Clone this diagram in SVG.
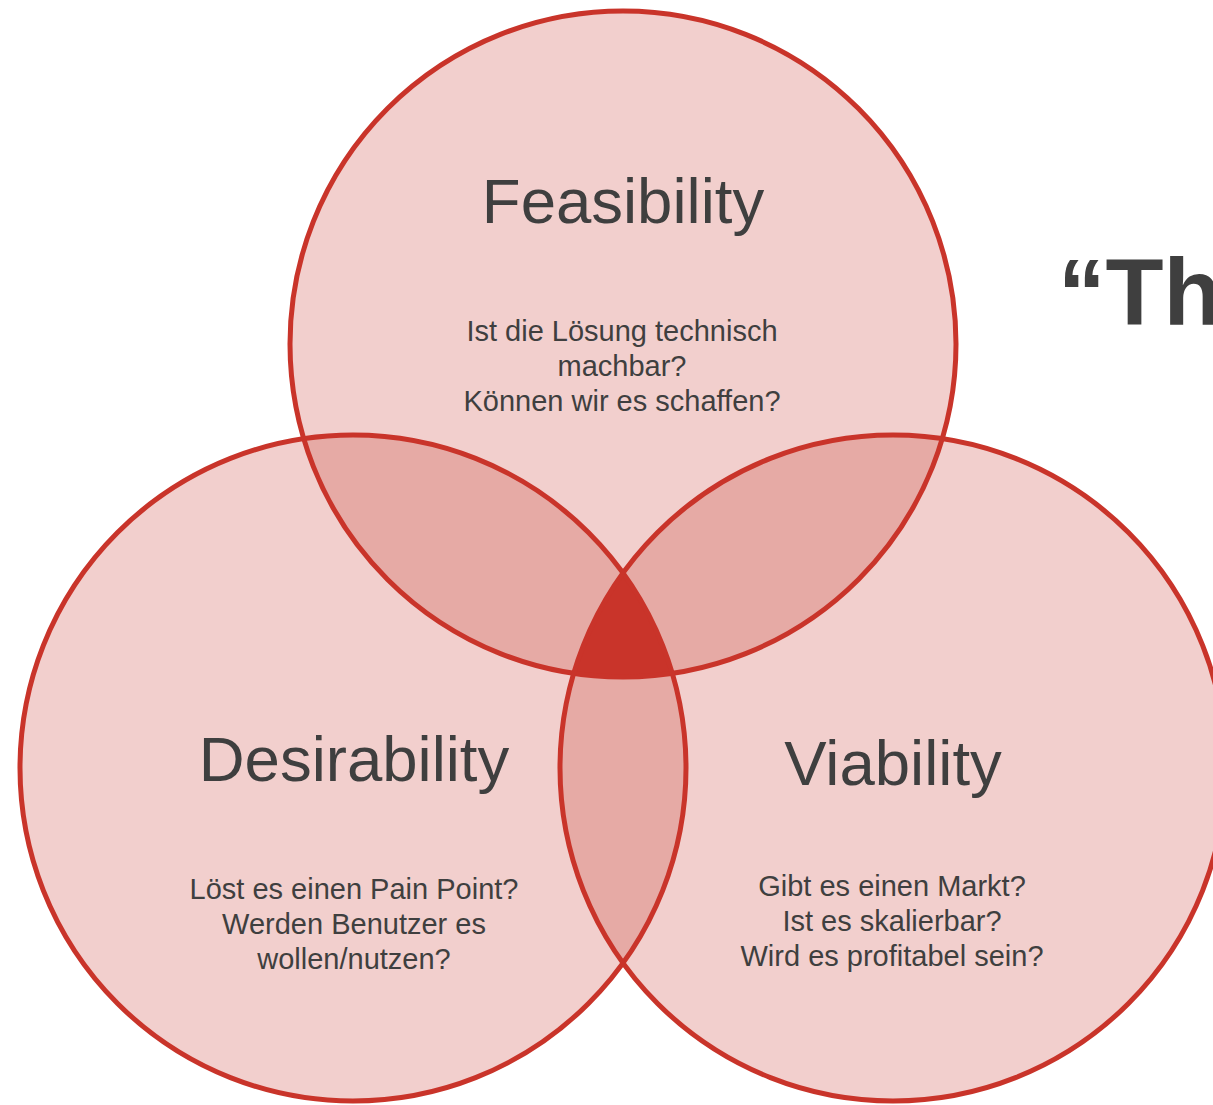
<svg xmlns="http://www.w3.org/2000/svg" width="1213" height="1105" viewBox="0 0 1213 1105">
  <style>
    .fill { fill: #f2cfcd; stroke: none; }
    .pair { fill: #e6aaa5; stroke: none; }
    .triple { fill: #c9342a; stroke: none; }
    .ring { fill: none; stroke: #c9342a; stroke-width: 5; }
    .title { font-family: "Liberation Sans", Arial, sans-serif; font-size: 63.5px; fill: #3f3f3f; text-anchor: middle; }
    .body { font-family: "Liberation Sans", Arial, sans-serif; font-size: 29px; fill: #3f3f3f; text-anchor: middle; }
    .big { font-family: "Liberation Sans", Arial, sans-serif; font-size: 95px; font-weight: bold; fill: #3f3f3f; }
  </style>
  <defs>
    <clipPath id="cTop"><circle cx="623" cy="344" r="333"/></clipPath>
    <clipPath id="cLeft"><circle cx="353" cy="768" r="333"/></clipPath>
    <clipPath id="cRight"><circle cx="893" cy="768" r="333"/></clipPath>
  </defs>
  <rect width="1213" height="1105" fill="#ffffff"/>
  <text class="big" x="1058" y="325">“Th</text>
  <g id="fills">
    <circle class="fill" cx="623" cy="344" r="333"/>
    <circle class="fill" cx="353" cy="768" r="333"/>
    <circle class="fill" cx="893" cy="768" r="333"/>
    <g clip-path="url(#cTop)">
      <circle class="pair" cx="353" cy="768" r="333"/>
      <circle class="pair" cx="893" cy="768" r="333"/>
    </g>
    <g clip-path="url(#cLeft)">
      <circle class="pair" cx="893" cy="768" r="333"/>
    </g>
    <g clip-path="url(#cTop)">
      <g clip-path="url(#cLeft)">
        <circle class="triple" cx="893" cy="768" r="333"/>
      </g>
    </g>
  </g>
  <g id="feasibility">
    <circle class="ring" cx="623" cy="344" r="333"/>
    <text class="title" x="623" y="223">Feasibility</text>
    <text class="body" x="622" y="341">Ist die Lösung technisch</text>
    <text class="body" x="622" y="376">machbar?</text>
    <text class="body" x="622" y="411">Können wir es schaffen?</text>
  </g>
  <g id="desirability">
    <circle class="ring" cx="353" cy="768" r="333"/>
    <text class="title" x="354" y="781">Desirability</text>
    <text class="body" x="354" y="899">Löst es einen Pain Point?</text>
    <text class="body" x="354" y="934">Werden Benutzer es</text>
    <text class="body" x="354" y="969">wollen/nutzen?</text>
  </g>
  <g id="viability">
    <circle class="ring" cx="893" cy="768" r="333"/>
    <text class="title" x="893" y="785">Viability</text>
    <text class="body" x="892" y="896">Gibt es einen Markt?</text>
    <text class="body" x="892" y="931">Ist es skalierbar?</text>
    <text class="body" x="892" y="966">Wird es profitabel sein?</text>
  </g>
  <g id="connectors"/>
</svg>
